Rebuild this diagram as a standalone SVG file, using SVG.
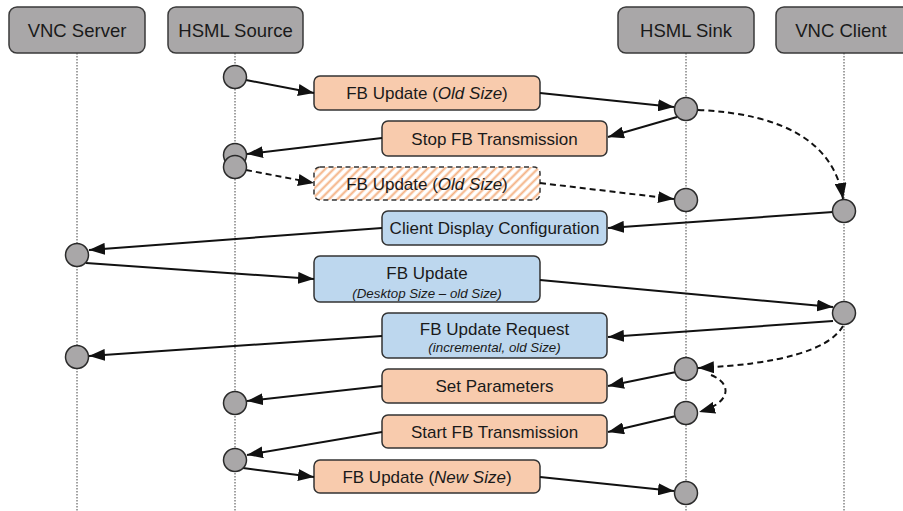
<svg xmlns="http://www.w3.org/2000/svg" width="903" height="511" viewBox="0 0 903 511">
<style>
.hdr{fill:#a9a7a8;stroke:#3a3a3a;stroke-width:1.5}
.hdrt{font-family:"Liberation Sans",Arial,sans-serif;font-size:18.5px;fill:#1a1a1a;text-anchor:middle}
.life{stroke:#444;stroke-width:1;stroke-dasharray:1.5 1.5;fill:none}
.org{fill:#f8cbad;stroke:#333;stroke-width:1.5}
.blu{fill:#bdd7ee;stroke:#333;stroke-width:1.5}
.hat{fill:url(#hatch);stroke:#333;stroke-width:1.5;stroke-dasharray:5 3.5}
.t{font-family:"Liberation Sans",Arial,sans-serif;font-size:17px;fill:#1a1a1a;text-anchor:middle}
.s{font-family:"Liberation Sans",Arial,sans-serif;font-size:13.3px;font-style:italic;fill:#1a1a1a;text-anchor:middle}
.dot{fill:#a9a7a8;stroke:#2a2a2a;stroke-width:1.5}
.c{stroke:#111;stroke-width:2;fill:none;marker-end:url(#ah)}
.d{stroke:#111;stroke-width:2;fill:none;stroke-dasharray:6 4;marker-end:url(#ah)}
</style>
<defs>
<marker id="ah" markerUnits="userSpaceOnUse" markerWidth="16" markerHeight="12" refX="16" refY="6" orient="auto">
<path d="M0,0 L16,6 L0,12 z" fill="#111"/>
</marker>
<pattern id="hatch" patternUnits="userSpaceOnUse" width="6" height="6" patternTransform="rotate(45)">
<rect width="6" height="6" fill="#fff"/>
<line x1="1.5" y1="0" x2="1.5" y2="6" stroke="#f4b183" stroke-width="2"/>
</pattern>
</defs>
<rect width="903" height="511" fill="#fff"/>

<g id="lifelines">
<line class="life" x1="77" y1="53" x2="77" y2="511"/>
<line class="life" x1="235" y1="53" x2="235" y2="511"/>
<line class="life" x1="686" y1="53" x2="686" y2="511"/>
<line class="life" x1="844" y1="53" x2="844" y2="511"/>
</g>

<g id="vnc-server"><rect class="hdr" x="9" y="7" width="136" height="46" rx="8"/><text class="hdrt" x="77" y="37">VNC Server</text></g>
<g id="hsml-source"><rect class="hdr" x="168" y="7" width="135" height="46" rx="8"/><text class="hdrt" x="235.5" y="37">HSML Source</text></g>
<g id="hsml-sink"><rect class="hdr" x="618" y="7" width="136" height="46" rx="8"/><text class="hdrt" x="686" y="37">HSML Sink</text></g>
<g id="vnc-client"><rect class="hdr" x="776" y="7" width="140" height="46" rx="8"/><text class="hdrt" x="841" y="37">VNC Client</text></g>

<g id="msg-fb-update-old"><rect class="org" x="314" y="76" width="226" height="34" rx="6"/><text class="t" x="427" y="99">FB Update (<tspan font-style="italic">Old Size</tspan>)</text></g>
<g id="msg-stop-fb"><rect class="org" x="382" y="121" width="225" height="35" rx="6"/><text class="t" x="494.5" y="144.5">Stop FB Transmission</text></g>
<g id="msg-fb-update-old-dropped"><rect class="hat" x="314" y="167" width="226" height="33" rx="6"/><text class="t" x="427" y="189.5">FB Update (<tspan font-style="italic">Old Size</tspan>)</text></g>
<g id="msg-client-display"><rect class="blu" x="382" y="211" width="225" height="34" rx="6"/><text class="t" x="494.5" y="234">Client Display Configuration</text></g>
<g id="msg-fb-update-desktop"><rect class="blu" x="314" y="256" width="226" height="46" rx="6"/><text class="t" x="427" y="279">FB Update</text><text class="s" x="427" y="298">(Desktop Size – old Size)</text></g>
<g id="msg-fb-update-request"><rect class="blu" x="382" y="313" width="225" height="45" rx="6"/><text class="t" x="494.5" y="335">FB Update Request</text><text class="s" x="494.5" y="352">(incremental, old Size)</text></g>
<g id="msg-set-params"><rect class="org" x="382" y="369" width="225" height="34" rx="6"/><text class="t" x="494.5" y="392">Set Parameters</text></g>
<g id="msg-start-fb"><rect class="org" x="382" y="415" width="225" height="33" rx="6"/><text class="t" x="494.5" y="437.5">Start FB Transmission</text></g>
<g id="msg-fb-update-new"><rect class="org" x="314" y="460" width="226" height="33" rx="6"/><text class="t" x="427" y="482.5">FB Update (<tspan font-style="italic">New Size</tspan>)</text></g>

<g id="connectors">
<line class="c" x1="246" y1="80" x2="314" y2="93"/>
<line class="c" x1="540" y1="93" x2="674" y2="107"/>
<line class="c" x1="677" y1="117" x2="608" y2="137"/>
<line class="c" x1="382" y1="138" x2="247" y2="154"/>
<line class="d" x1="246" y1="170" x2="314" y2="183"/>
<line class="d" x1="540" y1="183" x2="674" y2="199"/>
<path class="d" d="M698,110 Q830,116 843,199"/>
<line class="c" x1="833" y1="212" x2="608" y2="228"/>
<line class="c" x1="382" y1="228" x2="89" y2="250"/>
<line class="c" x1="86" y1="263" x2="314" y2="279"/>
<line class="c" x1="540" y1="280" x2="833" y2="307"/>
<line class="c" x1="833" y1="321" x2="608" y2="337"/>
<line class="c" x1="382" y1="336" x2="89" y2="356"/>
<path class="d" d="M843,326 Q822,362 698,368"/>
<line class="c" x1="676" y1="372" x2="608" y2="386"/>
<line class="c" x1="382" y1="386" x2="247" y2="401"/>
<path class="d" d="M711,375 C733,384 731,403 699,412"/>
<line class="c" x1="676" y1="416" x2="608" y2="432"/>
<line class="c" x1="382" y1="432" x2="247" y2="455"/>
<line class="c" x1="243" y1="468" x2="314" y2="477"/>
<line class="c" x1="540" y1="477" x2="674" y2="491"/>
</g>

<g id="activations">
<circle class="dot" cx="235" cy="77" r="11.5"/>
<circle class="dot" cx="686" cy="109" r="11.5"/>
<circle class="dot" cx="235" cy="155" r="11.5"/>
<circle class="dot" cx="235" cy="167" r="11.5"/>
<circle class="dot" cx="686" cy="200" r="11.5"/>
<circle class="dot" cx="844" cy="211" r="11.5"/>
<circle class="dot" cx="77" cy="255" r="11.5"/>
<circle class="dot" cx="844" cy="313" r="11.5"/>
<circle class="dot" cx="77" cy="357" r="11.5"/>
<circle class="dot" cx="686" cy="369" r="11.5"/>
<circle class="dot" cx="235" cy="403" r="11.5"/>
<circle class="dot" cx="686" cy="413" r="11.5"/>
<circle class="dot" cx="235" cy="460" r="11.5"/>
<circle class="dot" cx="686" cy="493" r="11.5"/>
</g>
</svg>
